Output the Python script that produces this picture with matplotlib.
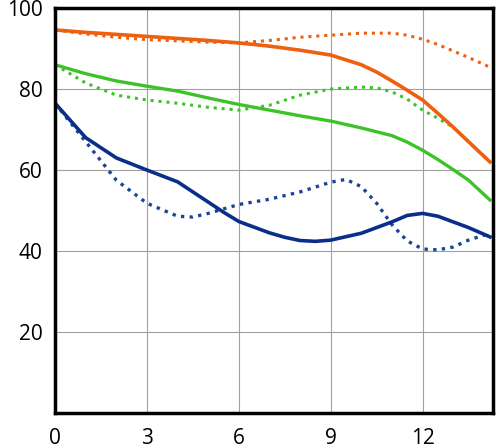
import numpy as np
import matplotlib.pyplot as plt

plt.rcParams['font.family'] = ['Open Sans', 'DejaVu Sans']

# DATA
x_orange = [0, 1, 2, 3, 4, 5, 6, 7, 8, 9, 10, 10.5, 11, 11.5, 12, 12.5, 13, 13.5, 14.2]
orange_solid = [94.6, 94.0, 93.5, 93.0, 92.5, 92.0, 91.4, 90.6, 89.6, 88.4, 86.0, 84.2, 82.0,
                79.7, 77.3, 74.0, 70.6, 67.0, 62.0]
x_orange_dot = [0, 1, 2, 3, 4, 5, 6, 7, 8, 9, 10, 11, 11.5, 12, 12.5, 13, 13.5, 14.2]
orange_dot = [94.6, 93.6, 92.8, 92.2, 91.9, 91.6, 91.4, 92.0, 92.8, 93.3, 93.8, 93.8, 93.3,
              92.3, 91.0, 89.4, 87.8, 85.4]
x_green = [0, 1, 2, 3, 4, 5, 6, 7, 8, 9, 10, 11, 11.5, 12, 12.5, 13, 13.5, 14.2]
green_solid = [86.0, 83.8, 82.0, 80.7, 79.5, 77.8, 76.2, 74.8, 73.4, 72.1, 70.4, 68.5, 66.9,
               64.9, 62.6, 60.1, 57.5, 52.6]
x_green_dot = [0, 1, 2, 3, 4, 5, 6, 7, 8, 9, 10, 10.5, 11, 11.5, 12, 12.5, 13, 13.5, 14.2]
green_dot = [86.0, 81.5, 78.5, 77.3, 76.5, 75.5, 74.8, 76.0, 78.5, 80.0, 80.5, 80.3, 79.3,
             77.5, 74.8, 72.8, 70.6, 67.0, 62.0]

x_navy = [0, 1, 2, 3, 4, 5, 5.5, 6, 7, 7.5, 8, 8.5, 9, 10, 11, 11.5, 12, 12.5, 13, 13.5, 14.2]
navy_solid = [76.5, 68.0, 63.0, 60.0, 57.1, 52.1, 49.6, 47.3, 44.5, 43.4, 42.6, 42.4, 42.7,
              44.4, 47.2, 48.8, 49.3, 48.6, 47.2, 45.8, 43.5]

x_navy_dot = [0, 1, 2, 3, 4, 4.5, 5, 6, 7, 8, 9, 9.5, 10, 10.5, 11, 11.5, 12, 12.5, 13, 13.5, 14.2]
navy_dot = [76.5, 67.0, 57.5, 51.8, 48.6, 48.4, 49.3, 51.5, 52.8, 54.6, 57.0, 57.7, 55.9, 51.8,
            46.5, 42.5, 40.5, 40.3, 41.0, 42.7, 44.4]

x_ticks = [0, 3, 6, 9, 12]
y_ticks = [20, 40, 60, 80, 100]

c_orange = '#ee6010'
c_green = '#3ec22a'
c_navy = '#0a2f8a'

fig = plt.figure(figsize=(4.96, 4.48), dpi=100)
ax = fig.add_axes([0.111, 0.078, 0.883, 0.904])

ax.plot(x_orange_dot, orange_dot, color=c_orange, lw=2.2, ls=(0, (1, 1.6)))
ax.plot(x_green_dot, green_dot, color=c_green, lw=2.2, ls=(0, (1, 1.6)))
ax.plot(x_navy_dot, navy_dot, color='#1a4596', lw=2.4, ls=(0, (1, 1.6)))
ax.plot(x_green, green_solid, color=c_green, lw=2.4)
ax.plot(x_orange, orange_solid, color=c_orange, lw=2.6)
ax.plot(x_navy, navy_solid, color=c_navy, lw=2.6)

ax.set_xlim(0, 14.3)
ax.set_ylim(0, 100)
ax.set_xticks(x_ticks)
ax.set_yticks(y_ticks)
ax.grid(True, color='#a0a0a0', lw=0.8)
ax.tick_params(length=0, labelsize=15)
ax.tick_params(axis='x', pad=11)
ax.tick_params(axis='y', pad=9)
for s in ax.spines.values():
    s.set_linewidth(2.5)
    s.set_color('black')

fig.savefig('out.png', dpi=100)
